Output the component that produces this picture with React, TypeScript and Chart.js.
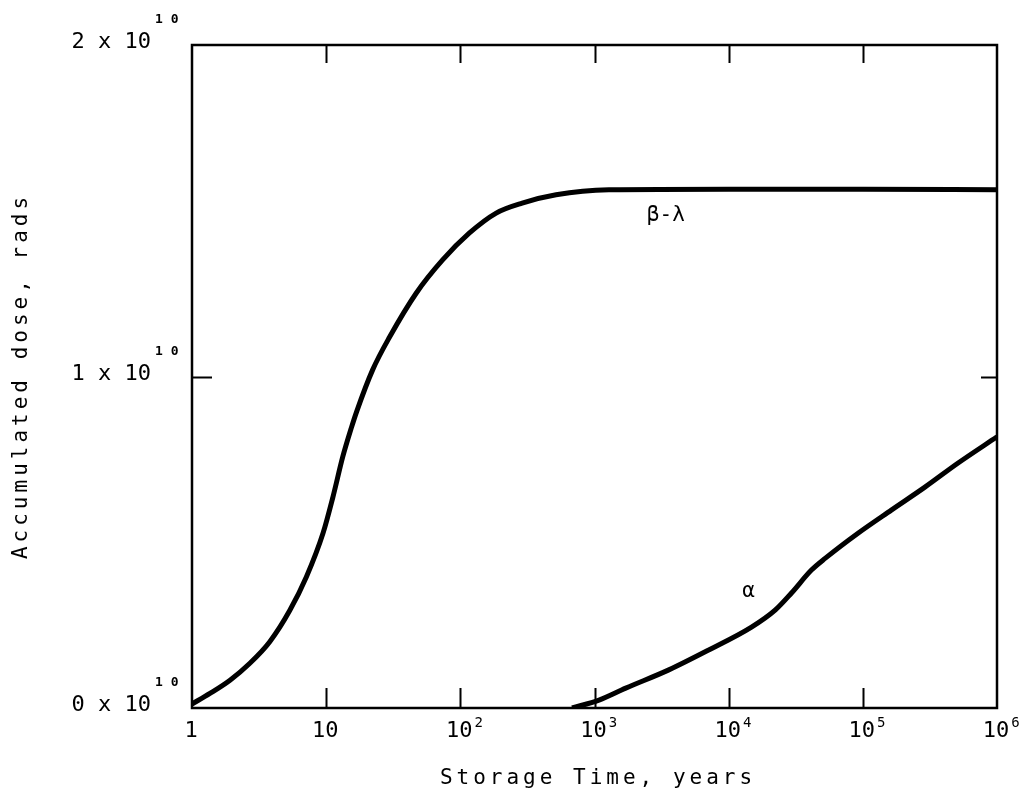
import React, { useEffect, useRef } from "react";
import { Chart, registerables } from "chart.js";

Chart.register(...registerables);

// Data (y in units of 1e10 rads)
const betaX = [1, 1.36, 1.92, 2.7, 3.8, 5.35, 7.13, 9.47, 11.24, 13.3, 15.4, 16.9, 22.2, 29.7, 47, 73.5, 117, 185, 289, 517, 1280, 10000, 100000, 1000000];
const betaY = [0.012, 0.044, 0.084, 0.135, 0.2, 0.294, 0.396, 0.527, 0.637, 0.758, 0.845, 0.895, 1.02, 1.119, 1.252, 1.351, 1.433, 1.493, 1.523, 1.548, 1.563, 1.565, 1.565, 1.563];
const alphaX = [680, 1080, 1710, 3580, 7100, 14800, 22300, 29400, 41400, 52600, 92600, 163000, 292000, 513000, 1000000];
const alphaY = [0, 0.024, 0.06, 0.115, 0.175, 0.244, 0.296, 0.347, 0.416, 0.452, 0.528, 0.597, 0.667, 0.739, 0.818];

const xTickValues = [1, 10, 100, 1000, 10000, 100000, 1000000];
const xTickBase = ["1", "10", "10", "10", "10", "10", "10"];
const xTickExp = ["", "", "2", "3", "4", "5", "6"];
const xInnerTicks = [10, 100, 1000, 10000, 100000];
const yTickValues = [0, 1, 2];
const yTickLabels = ["0 x 10", "1 x 10", "2 x 10"];
const yTickExp = "1 0";
const yInnerTicks = [1];

const curveLabels = ["β-λ", "α"];
const curveLabelX = [3400, 14100];
const curveLabelY = [1.487, 0.35];

const xTitle = "Storage Time, years";
const yTitle = "Accumulated dose, rads";

const FONT = '"DejaVu Sans Mono", monospace';

const decorPlugin = {
  id: "decor",
  afterDraw(chart: any) {
    const ctx = chart.ctx as CanvasRenderingContext2D;
    const { left, right, top, bottom } = chart.chartArea;
    const xs = chart.scales.x;
    const ys = chart.scales.y;
    ctx.save();
    ctx.strokeStyle = "#000";
    ctx.fillStyle = "#000";
    // frame
    ctx.lineWidth = 2.5;
    ctx.strokeRect(left, top, right - left, bottom - top);
    // inner ticks
    ctx.lineWidth = 2;
    xInnerTicks.forEach((v) => {
      const px = Math.round(xs.getPixelForValue(v)) + 0.5;
      ctx.beginPath();
      ctx.moveTo(px, bottom);
      ctx.lineTo(px, bottom - 20);
      ctx.moveTo(px, top);
      ctx.lineTo(px, top + 18);
      ctx.stroke();
    });
    yInnerTicks.forEach((v) => {
      const py = Math.round(ys.getPixelForValue(v * 1e10)) + 0.5;
      ctx.beginPath();
      ctx.moveTo(left, py);
      ctx.lineTo(left + 20, py);
      ctx.moveTo(right, py);
      ctx.lineTo(right - 16, py);
      ctx.stroke();
    });
    // x tick labels
    ctx.textBaseline = "alphabetic";
    xTickValues.forEach((v, i) => {
      const px = xs.getPixelForValue(v);
      ctx.font = `22px ${FONT}`;
      ctx.textAlign = "center";
      ctx.fillText(xTickBase[i], px - 1, 737);
      if (xTickExp[i]) {
        const w = ctx.measureText(xTickBase[i]).width;
        ctx.font = `14px ${FONT}`;
        ctx.textAlign = "left";
        ctx.fillText(xTickExp[i], px - 1 + w / 2 + 2, 727);
      }
    });
    // y tick labels
    yTickValues.forEach((v, i) => {
      const py = ys.getPixelForValue(v * 1e10);
      ctx.font = `22px ${FONT}`;
      ctx.textAlign = "right";
      ctx.fillText(yTickLabels[i], 151, py + 3);
      ctx.font = `bold 13px ${FONT}`;
      ctx.textAlign = "left";
      ctx.fillText(yTickExp, 155, py - 22);
    });
    // curve labels
    ctx.font = `21px ${FONT}`;
    ctx.textAlign = "center";
    ctx.textBaseline = "middle";
    curveLabels.forEach((t, i) => {
      ctx.fillText(t, xs.getPixelForValue(curveLabelX[i]), ys.getPixelForValue(curveLabelY[i] * 1e10));
    });
    // titles
    ctx.font = `21px ${FONT}`;
    (ctx as any).letterSpacing = "4px";
    ctx.textAlign = "center";
    ctx.textBaseline = "middle";
    ctx.fillText(xTitle, 598, 779);
    ctx.translate(22, 376);
    ctx.rotate(-Math.PI / 2);
    ctx.fillText(yTitle, 0, 0);
    ctx.restore();
  },
};

export default function App() {
  const ref = useRef<HTMLCanvasElement | null>(null);
  useEffect(() => {
    document.body.style.margin = "0";
    const canvas = ref.current;
    if (!canvas) return;
    const chart = new Chart(canvas, {
      type: "line",
      data: {
        datasets: [
          {
            label: "β-λ",
            data: betaX.map((x, i) => ({ x, y: betaY[i] * 1e10 })),
            borderColor: "#000",
            borderWidth: 5,
            pointRadius: 0,
            cubicInterpolationMode: "monotone",
            fill: false,
          },
          {
            label: "α",
            data: alphaX.map((x, i) => ({ x, y: alphaY[i] * 1e10 })),
            borderColor: "#000",
            borderWidth: 5,
            pointRadius: 0,
            cubicInterpolationMode: "monotone",
            fill: false,
          },
        ],
      },
      options: {
        animation: false,
        responsive: false,
        devicePixelRatio: 1,
        layout: { padding: { left: 192, right: 31, top: 45, bottom: 95 } },
        plugins: { legend: { display: false }, tooltip: { enabled: false } },
        scales: {
          x: { type: "logarithmic", min: 1, max: 1e6, display: false },
          y: { type: "linear", min: 0, max: 2e10, display: false },
        },
      },
      plugins: [decorPlugin],
    });
    return () => chart.destroy();
  }, []);
  return (
    <div style={{ background: "#fff", width: 1028, height: 803 }}>
      <canvas ref={ref} width={1028} height={803} style={{ display: "block" }} />
    </div>
  );
}
